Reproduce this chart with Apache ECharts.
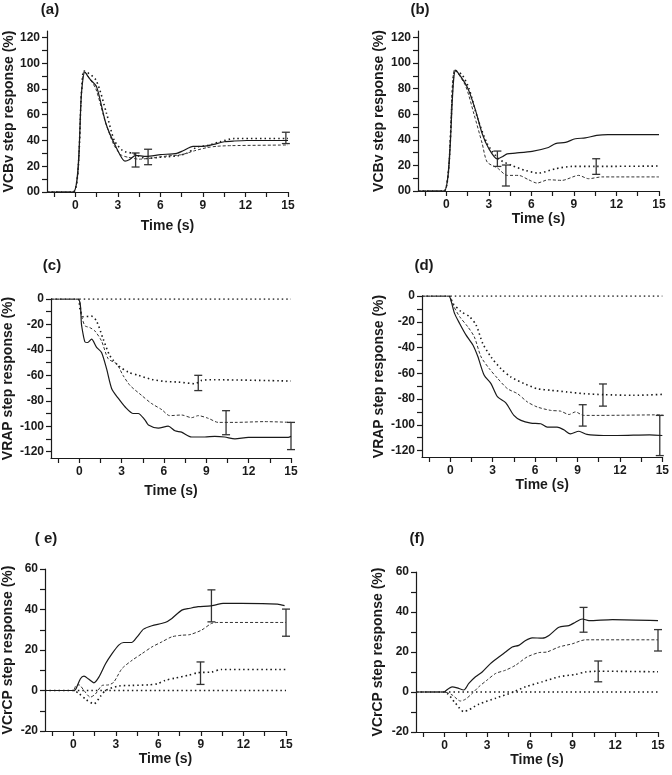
<!DOCTYPE html>
<html>
<head>
<meta charset="utf-8">
<script src="https://cdn.jsdelivr.net/npm/echarts@6/dist/echarts.min.js"></script>
<style>
  html, body { margin: 0; padding: 0; background: #fff; }
  #chart { width: 672px; height: 775px; }
</style>
</head>
<body>
<div id="chart"></div>
<script>
// tick values
const timeTicks = [-1.5, 0, 1.5, 3, 4.5, 6, 7.5, 9, 10.5, 12, 13.5, 15]
const timeLabels = [0, 3, 6, 9, 12, 15]
const vcbvTicks = [0, 10, 20, 30, 40, 50, 60, 70, 80, 90, 100, 110, 120]
const vcbvLabels = [0, 20, 40, 60, 80, 100, 120]
const vrapTicks = [0, -10, -20, -30, -40, -50, -60, -70, -80, -90, -100, -110, -120]
const vrapLabels = [0, -20, -40, -60, -80, -100, -120]
const vcrcpTicks = [-20, -10, 0, 10, 20, 30, 40, 50, 60]
const vcrcpLabels = [-20, 0, 20, 40, 60]

// (a) VCBv
const aSolid = [[-2,0],[-0.15,0],[0.45,79],[0.67,93],[1.0,88],[1.5,81.6],[2.16,53],[2.87,35],[3.5,24],[3.8,25],[4.25,28.5],[5.0,27.7],[6.0,29],[7.15,30],[7.6,32],[8.3,35.5],[9.05,35.5],[9.75,37],[10.5,39],[11.2,39.6],[12.1,40],[15,40]]
const aDashed = [[-2,0],[-0.15,0],[0.45,80],[0.62,94],[1.0,88],[1.45,80],[2.1,55],[2.7,37],[3.2,29],[3.7,27],[4.5,25.5],[5.5,26.5],[6.5,28],[7.5,29],[8.4,32],[9.3,34.5],[10,35.5],[11,36],[15,36.5]]
const aDotted = [[-2,0],[-0.15,0],[0.45,80],[0.62,94],[1.45,87],[2.2,61],[2.75,40],[3.35,32],[4.06,30],[5,26],[6,27],[7.15,28],[7.85,30],[8.6,35],[9.3,36],[10.2,39],[11.2,41.5],[15,41.5]]
const aErr = [[4.25,19.4,30.3],[5.13,21.2,33.2],[14.85,37.6,46.4]]

// (b) VCBv
const bSolid = [[-2,0],[-0.16,0],[0.66,94.5],[1.48,81],[2.06,63],[2.53,44.7],[3.0,33],[3.59,25],[3.98,27],[4.29,29],[4.87,29.6],[6.05,31],[7.2,34],[7.7,37],[8.4,38],[9.1,40.8],[9.8,41.5],[10.6,43.4],[11.4,44],[15,44]]
const bDashed = [[-2,0],[-0.16,0],[0.6,95],[1.36,82],[1.95,60],[2.53,37],[2.88,22.6],[3.6,18],[4.29,12.2],[5.1,12.2],[5.8,8.8],[6.4,6.2],[7.2,8.8],[8.15,8.3],[9.33,12.2],[10.03,9.6],[10.97,11],[15,11]]
const bDotted = [[-2,0],[-0.16,0],[0.6,94],[1.1,91],[1.6,80],[2.18,57.7],[2.88,37],[3.7,25],[4.6,20],[5.6,16],[6.5,14],[7.7,17.4],[8.86,19.2],[10.5,19.2],[15,19.5]]
const bErr = [[3.6,19.2,31.2],[4.2,3.9,20.3],[10.57,13,25.2]]

// (c) VRAP
const cSolid = [[-2,0],[-0.1,0],[0.17,-21],[0.4,-33.7],[0.6,-34.2],[0.87,-31.6],[1.23,-38],[1.58,-42],[1.94,-55],[2.3,-70.5],[2.76,-78],[3.24,-84.7],[3.83,-90],[4.18,-90],[4.65,-95],[4.9,-99],[5.6,-101.5],[6.3,-100],[6.78,-103.6],[7.25,-104.7],[7.96,-108.5],[8.9,-108.5],[9.6,-108],[10.3,-108.5],[11.03,-110],[11.98,-108.8],[14.8,-108.8],[15,-108]]
const cDashed = [[-2,0],[-0.1,0],[0.17,-13.5],[0.4,-21],[0.75,-22.5],[1.1,-25],[1.58,-33],[2.05,-47],[2.65,-51],[3.1,-60],[3.6,-68],[4.4,-75.6],[5.1,-82],[5.85,-87],[6.4,-91.7],[7.25,-91.2],[7.96,-93.3],[8.43,-91.7],[9.14,-93.8],[9.85,-97],[11.03,-97],[13.16,-96.4],[15,-97]]
const cDotted = [[-2,0],[-0.1,0],[0.05,-8],[0.28,-14],[0.87,-13.5],[1.23,-17.4],[1.7,-31.6],[2.17,-44.6],[2.76,-52.3],[3.47,-57.5],[4.18,-60],[5.13,-63.2],[6.07,-64.8],[7.0,-65.3],[8.2,-66.6],[8.67,-64],[9.6,-63.5],[15,-64.5]]
const cErr = [[8.43,-72,-60],[10.4,-106.7,-87.8],[15,-118.4,-97]]

// (d) VRAP
const dSolid = [[-2,0],[-0.1,0],[0.07,-4.4],[0.3,-13.5],[0.66,-21.3],[1.12,-30.4],[1.6,-38],[1.95,-47],[2.4,-61.6],[2.88,-68],[3.35,-78.4],[3.93,-83],[4.5,-92.7],[5,-96.6],[5.7,-98.7],[6.4,-99.2],[6.86,-101.8],[7.56,-101.8],[8.03,-103.9],[8.5,-107],[9.1,-105],[9.67,-107.5],[10.85,-108.3],[11.8,-108.3],[14.1,-107.8],[15,-108.3]]
const dDashed = [[-2,0],[-0.1,0],[0.19,-7],[0.66,-16],[1.24,-23.9],[1.7,-31.7],[2.18,-47.3],[2.76,-56.4],[3.35,-64],[4.05,-72],[4.75,-75.8],[5.46,-82.3],[6.16,-86.2],[7.1,-88.8],[7.8,-89.4],[8.4,-92],[8.85,-90],[9.44,-92.7],[10.37,-92.7],[15,-92.2]]
const dDotted = [[-2,0],[-0.1,0],[0.19,-5.7],[0.77,-12.2],[1.36,-16],[1.83,-22.6],[2.3,-36.9],[2.88,-47.3],[3.58,-56.4],[4.29,-62.9],[5.22,-68],[6.16,-72],[7.1,-73.2],[8.27,-74.5],[9.44,-75.8],[10.85,-76.6],[12.95,-77.1],[15,-76.4]]
const dErr = [[9.37,-101,-84.4],[10.8,-85.5,-68.3],[14.82,-123.9,-92.7]]

// (e) VCrCP
const eSolid = [[-2,0],[0,0],[0.16,0.5],[0.5,5.8],[0.75,7.1],[1.1,5.5],[1.45,3.8],[1.8,6.6],[2.27,13.2],[2.73,18.2],[3.2,22.4],[3.55,23.7],[4.1,23.7],[4.5,26.5],[4.95,30.3],[5.54,32],[6.47,33.6],[6.95,35.6],[7.65,39.7],[8.22,40.6],[8.8,41.4],[9.5,41.7],[9.98,42.2],[10.56,43],[11.85,43],[14.4,42.7],[14.9,41.9]]
const eDashed = [[-2,0],[0,0],[0.16,2.2],[0.4,2.8],[0.75,0],[1.2,-3.3],[1.56,-1.7],[2.03,2.5],[2.5,2.8],[2.85,4.1],[3.43,10.8],[4.14,14.9],[4.84,18.2],[5.54,21.5],[6.24,24],[6.94,26.5],[7.64,27.3],[8.22,27.6],[9.04,29.8],[9.74,33.1],[10.2,33.6],[15,33.6]]
const eDotted = [[-2,0],[0,0],[0.4,-1.5],[0.9,-4.5],[1.45,-6.6],[1.9,-3],[2.27,0],[3.2,2.2],[4.14,2.5],[5.3,2.8],[5.9,3.3],[6.47,5],[7.17,6.1],[8.1,7.5],[8.8,8.8],[9.74,9.1],[10.44,10.4],[15,10.4]]
const eErr = [[9.74,33.9,49.7],[15,26.8,40.2],[8.97,3,14.1]]

// (f) VCrCP
const fSolid = [[-2,0],[0,0],[0.07,0.5],[0.54,2.6],[0.89,2.1],[1.36,1],[1.71,4.3],[2.18,7.6],[2.65,10],[3.23,14.2],[3.82,17.5],[4.29,20],[4.76,22.5],[5.22,23.3],[5.7,25.8],[6.16,27.1],[6.87,26.9],[7.34,28.3],[8.04,32.4],[8.74,33.2],[9.2,34.9],[9.68,36.5],[10.15,35.7],[11.8,36.2],[15,35.7]]
const fDashed = [[-2,0],[0,0],[0.54,-1.5],[1.12,-4.5],[1.48,-3.6],[1.95,-0.7],[2.41,2.6],[3.0,6],[3.6,9.3],[4.29,10.9],[5,13.4],[5.8,17.5],[6.63,19.7],[7.2,20],[8.04,22.5],[8.98,24.1],[9.9,26.1],[15,26.1]]
const fDotted = [[-2,0],[0,0],[0.77,-5.6],[1.36,-9.8],[2.41,-6.1],[3.6,-3.1],[4.76,-0.2],[5.7,2.6],[6.87,5.1],[8.04,7.6],[9.2,8.8],[9.9,10],[10.85,10.4],[15,10.1]]
const fErr = [[9.77,29.9,42.3],[15,20.5,31.2],[10.8,5.1,15.5]]

const zeroLine = [[0,0],[15,0]]

const panels = [
  { tag: "(a)", tagX: 50, tagY: 10, grid: { left: 47, top: 31, width: 241, height: 161 },
    yName: "VCBv step response (%)", yMin: 0, yMax: 125, yTicks: vcbvTicks, yLabels: vcbvLabels,
    yGap: 31, xGap: 27, solid: aSolid, dashed: aDashed, dotted: aDotted, err: aErr, zero: false },
  { tag: "(b)", tagX: 420, tagY: 10, grid: { left: 418, top: 31, width: 241, height: 160 },
    yName: "VCBv step response (%)", yMin: 0, yMax: 125, yTicks: vcbvTicks, yLabels: vcbvLabels,
    yGap: 32, xGap: 20, solid: bSolid, dashed: bDashed, dotted: bDotted, err: bErr, zero: false },
  { tag: "(c)", tagX: 52, tagY: 266, grid: { left: 51, top: 299, width: 240, height: 159 },
    yName: "VRAP step response (%)", yMin: -125, yMax: 0, yTicks: vrapTicks, yLabels: vrapLabels,
    yGap: 36, xGap: 26, solid: cSolid, dashed: cDashed, dotted: cDotted, err: cErr, zero: true },
  { tag: "(d)", tagX: 424, tagY: 266, grid: { left: 422, top: 296, width: 242, height: 161 },
    yName: "VRAP step response (%)", yMin: -125, yMax: 0, yTicks: vrapTicks, yLabels: vrapLabels,
    yGap: 36, xGap: 17, solid: dSolid, dashed: dDashed, dotted: dDotted, err: dErr, zero: true },
  { tag: "( e)", tagX: 46, tagY: 539, grid: { left: 45, top: 569, width: 241, height: 162 },
    yName: "VCrCP step response (%)", yMin: -20, yMax: 60, yTicks: vcrcpTicks, yLabels: vcrcpLabels,
    yGap: 30, xGap: 16, solid: eSolid, dashed: eDashed, dotted: eDotted, err: eErr, zero: true },
  { tag: "(f)", tagX: 417, tagY: 539, grid: { left: 416, top: 572, width: 242, height: 160 },
    yName: "VCrCP step response (%)", yMin: -20, yMax: 60, yTicks: vcrcpTicks, yLabels: vcrcpLabels,
    yGap: 31, xGap: 19, solid: fSolid, dashed: fDashed, dotted: fDotted, err: fErr, zero: true },
]

const ink = "#1a1a1a"
const labelFont = { color: ink, fontFamily: "Liberation Sans, Arial", fontWeight: "bold", fontSize: 12 }
const nameFont = { color: ink, fontFamily: "Liberation Sans, Arial", fontWeight: "bold", fontSize: 14 }
const axisLine = { show: true, onZero: false, lineStyle: { color: ink, width: 1.2 } }

const grids = []
const xAxes = []
const yAxes = []
const series = []
const graphics = []

function errorBar(params, api) {
  const x = api.value(0)
  const lo = api.coord([x, api.value(1)])
  const hi = api.coord([x, api.value(2)])
  const cap = 4
  const style = { stroke: "#333", lineWidth: 1.3 }
  return {
    type: "group",
    children: [
      { type: "line", shape: { x1: lo[0], y1: lo[1], x2: hi[0], y2: hi[1] }, style },
      { type: "line", shape: { x1: lo[0] - cap, y1: lo[1], x2: lo[0] + cap, y2: lo[1] }, style },
      { type: "line", shape: { x1: hi[0] - cap, y1: hi[1], x2: hi[0] + cap, y2: hi[1] }, style },
    ],
  }
}

panels.forEach((p, i) => {
  grids.push(p.grid)
  xAxes.push({
    type: "value", gridIndex: i, min: -2, max: 15,
    name: "Time (s)", nameLocation: "middle", nameGap: p.xGap, nameTextStyle: nameFont,
    axisLine, splitLine: { show: false },
    axisTick: { show: true, length: 5, customValues: timeTicks, lineStyle: { color: ink, width: 1.2 } },
    axisLabel: { customValues: timeLabels, margin: 8, ...labelFont },
  })
  yAxes.push({
    type: "value", gridIndex: i, min: p.yMin, max: p.yMax,
    name: p.yName, nameLocation: "middle", nameGap: p.yGap, nameTextStyle: nameFont,
    axisLine, splitLine: { show: false },
    axisTick: { show: true, length: 5, customValues: p.yTicks, lineStyle: { color: ink, width: 1.2 } },
    axisLabel: {
      customValues: p.yLabels, margin: 7, ...labelFont,
      formatter: (v) => (p.yMin === 0 && v === 0 ? "00" : String(v)),
    },
  })
  const base = { type: "line", xAxisIndex: i, yAxisIndex: i, symbol: "none", smooth: 0.25, silent: true }
  if (p.zero) {
    series.push({ ...base, smooth: false, data: zeroLine,
      lineStyle: { color: ink, width: 1.6, type: [1.5, 3] } })
  }
  series.push({ ...base, data: p.dotted, lineStyle: { color: ink, width: 1.6, type: [1.5, 3] } })
  series.push({ ...base, data: p.dashed, lineStyle: { color: "#333", width: 1, type: [3, 2] } })
  series.push({ ...base, data: p.solid, lineStyle: { color: ink, width: 1.2 } })
  series.push({
    type: "custom", xAxisIndex: i, yAxisIndex: i, clip: false, silent: true,
    renderItem: errorBar, encode: { x: 0, y: [1, 2] }, data: p.err,
  })
  graphics.push({
    type: "text", x: p.tagX, y: p.tagY,
    style: { text: p.tag, fill: ink, font: "bold 15px Liberation Sans, Arial", align: "center", verticalAlign: "middle" },
  })
})

const chart = echarts.init(document.getElementById("chart"), null, { renderer: "canvas" })
chart.setOption({
  animation: false,
  backgroundColor: "#fff",
  grid: grids,
  xAxis: xAxes,
  yAxis: yAxes,
  series,
  graphic: graphics,
})
</script>
</body>
</html>
